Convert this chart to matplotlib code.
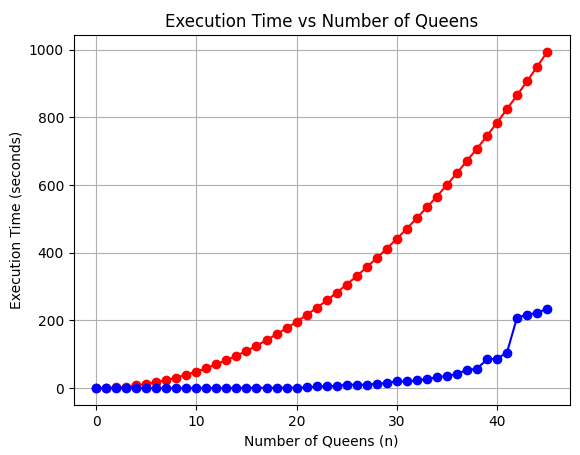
import matplotlib.pyplot as plt

n = list(range(46))
t_fast = [0, 0, 0, 0, 0, 0, 0, 0, 0, 0, 0, 0, 0, 0, 0.5, 0.5, 1, 1, 1, 1.5, 1.5,
          2, 5, 5, 7, 10, 10, 10, 13, 15, 20, 20, 23, 27, 32, 36, 42, 54, 57, 85,
          87, 105, 208, 217, 222, 235]
t_slow = [0, 0.5, 2, 4.5, 8, 12, 18, 24, 31, 40, 49, 59, 71, 83, 96, 110, 125,
          142, 159, 177, 196, 216, 237, 259, 282, 306, 331, 357, 384, 412, 441,
          471, 502, 534, 566, 600, 635, 671, 707, 745, 784, 824, 865, 906, 949, 992]

fig, ax = plt.subplots(figsize=(5.8, 4.55), dpi=100)
ax.plot(n, t_slow, 'o-', color='red')
ax.plot(n, t_fast, 'o-', color='blue')
ax.set_title('Execution Time vs Number of Queens')
ax.set_xlabel('Number of Queens (n)')
ax.set_ylabel('Execution Time (seconds)')
ax.grid(True)
fig.subplots_adjust(left=0.127, right=0.982, top=0.922, bottom=0.11)
fig.savefig('out.png')
